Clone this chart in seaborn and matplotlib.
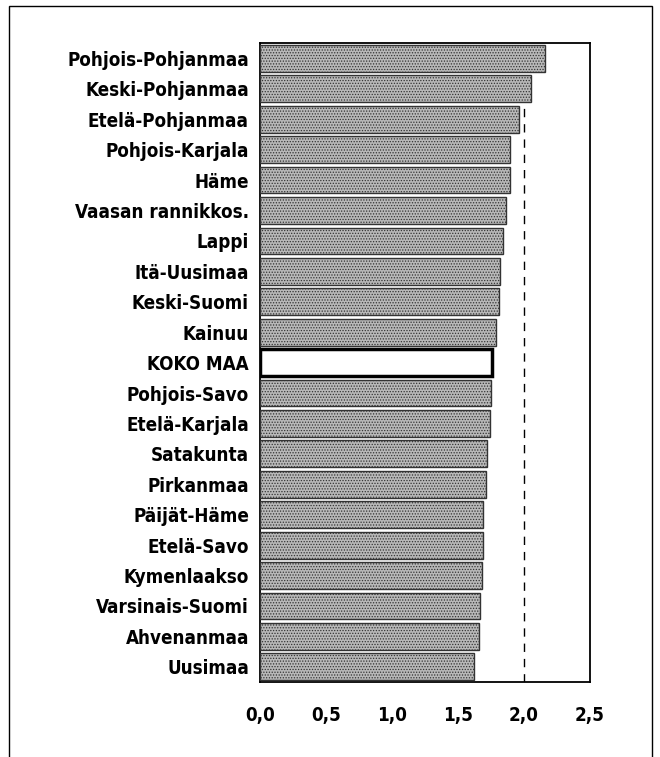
import seaborn as sns
import matplotlib.pyplot as plt
import matplotlib.patches as mpatches
import pandas as pd

alueet = ["Pohjois-Pohjanmaa", "Keski-Pohjanmaa", "Etelä-Pohjanmaa", "Pohjois-Karjala",
          "Häme", "Vaasan rannikkos.", "Lappi", "Itä-Uusimaa", "Keski-Suomi", "Kainuu",
          "KOKO MAA", "Pohjois-Savo", "Etelä-Karjala", "Satakunta", "Pirkanmaa",
          "Päijät-Häme", "Etelä-Savo", "Kymenlaakso", "Varsinais-Suomi", "Ahvenanmaa",
          "Uusimaa"]
arvot = [2.16, 2.05, 1.96, 1.89, 1.89, 1.86, 1.84, 1.82, 1.81, 1.79,
         1.76, 1.75, 1.74, 1.72, 1.71, 1.69, 1.69, 1.68, 1.67, 1.66, 1.62]
xticks = [0, 0.5, 1.0, 1.5, 2.0, 2.5]
xlabels = ["0,0", "0,5", "1,0", "1,5", "2,0", "2,5"]

df = pd.DataFrame({"alue": alueet, "arvo": arvot})

sns.set_style("white")
plt.rcParams["font.family"] = ["DejaVu Sans"]
plt.rcParams["font.stretch"] = "condensed"
plt.rcParams["font.weight"] = "bold"
plt.rcParams["text.color"] = "black"
plt.rcParams["xtick.color"] = "black"
plt.rcParams["ytick.color"] = "black"
plt.rcParams["hatch.color"] = "#5a5a5a"
plt.rcParams["hatch.linewidth"] = 0.6

fig = plt.figure(figsize=(6.6, 7.57), dpi=100)
ax = fig.add_axes([0.394, 0.099, 0.5, 0.844])

varit = ["white" if a == "KOKO MAA" else "#b8b8b8" for a in alueet]
sns.barplot(data=df, x="arvo", y="alue", hue="alue", palette=varit, legend=False,
            orient="h", width=0.88, edgecolor="black", linewidth=1.0, saturation=1,
            ax=ax, zorder=3)

for bar, a in zip(ax.patches, alueet):
    if a == "KOKO MAA":
        bar.set_linewidth(2.5)
    else:
        bar.set_hatch("......")
        bar.set_edgecolor("#333333")

ax.axvline(2.0, ymax=0.9, color="black", linestyle=(0, (6, 5)), linewidth=1, zorder=1)

ax.set_xlim(0, 2.5)
ax.set_xticks(xticks)
ax.set_xticklabels(xlabels)
ax.set_xlabel("")
ax.set_ylabel("")
ax.tick_params(axis="x", direction="in", length=3, pad=17, labelsize=13.5)
ax.tick_params(axis="y", length=0, pad=8, labelsize=13.5)
for s in ax.spines.values():
    s.set_color("black")
    s.set_linewidth(1.3)

# kehys koko kuvan ympärille
fig.patches.append(mpatches.Rectangle((0.013, -0.05), 0.975, 1.042, transform=fig.transFigure,
                                      fill=False, edgecolor="black", linewidth=1))

fig.savefig("out.png", dpi=100)
